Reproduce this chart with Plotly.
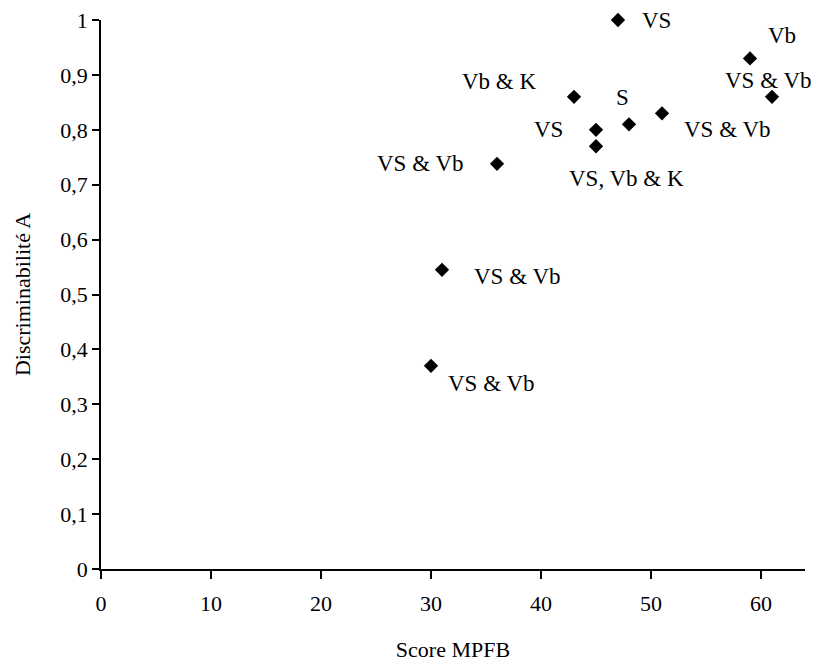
import plotly.graph_objects as go

# Data
score_mpfb = [47, 59, 61, 43, 48, 51, 45, 45, 36, 31, 30]
discriminabilite = [1.0, 0.93, 0.86, 0.86, 0.81, 0.83, 0.80, 0.77, 0.738, 0.545, 0.37]
labels = ["VS", "Vb", "VS & Vb", "Vb & K", "S", "VS & Vb", "VS",
          "VS, Vb & K", "VS & Vb", "VS & Vb", "VS & Vb"]

# Label offsets (pixels) relative to each point -- styling only
label_dx = [38, 32, -4, -75, -7, 65, -48, 30, -77, 75, 60]
label_dy = [0, 23, 16, 15, 27, -16, 0, -32, 0, -7, -18]

FONT = "Liberation Serif"

fig = go.Figure()
fig.add_trace(go.Scatter(
    x=score_mpfb, y=discriminabilite, mode="markers",
    marker=dict(symbol="diamond", size=11, color="black"),
    showlegend=False, hoverinfo="skip", cliponaxis=False,
))

for xv, yv, t, dx, dy in zip(score_mpfb, discriminabilite, labels, label_dx, label_dy):
    fig.add_annotation(x=xv, y=yv, xref="x", yref="y", text=t, showarrow=False,
                       xshift=dx, yshift=dy, xanchor="center", yanchor="middle",
                       font=dict(family=FONT, size=23, color="black"))

# the page body adds an 8px margin, so the figure is sized to fit the window
fig.update_layout(
    width=811, height=658,
    margin=dict(l=93, r=14, t=12, b=97, autoexpand=False),
    paper_bgcolor="white", plot_bgcolor="white",
    separators=", ",
    font=dict(family=FONT, size=22, color="black"),
    xaxis=dict(
        range=[0, 64], dtick=10, tick0=0, automargin=False,
        showgrid=False, zeroline=False,
        showline=True, linecolor="black", linewidth=1.5,
        ticks="outside", ticklen=8, tickwidth=1.5, tickcolor="black",
        ticklabelstandoff=6, ticklabeloverflow="allow",
        title=dict(text="Score MPFB", standoff=26, font=dict(family=FONT, size=22)),
        tickfont=dict(family=FONT, size=22),
    ),
    yaxis=dict(
        range=[0, 1], dtick=0.1, tick0=0, automargin=False,
        showgrid=False, zeroline=False,
        showline=True, linecolor="black", linewidth=1.5,
        ticks="outside", ticklen=7, tickwidth=1.5, tickcolor="black",
        ticklabeloverflow="allow",
        title=dict(text="Discriminabilité A", standoff=24, font=dict(family=FONT, size=22)),
        tickfont=dict(family=FONT, size=22),
    ),
)

fig.write_html("out.html")
